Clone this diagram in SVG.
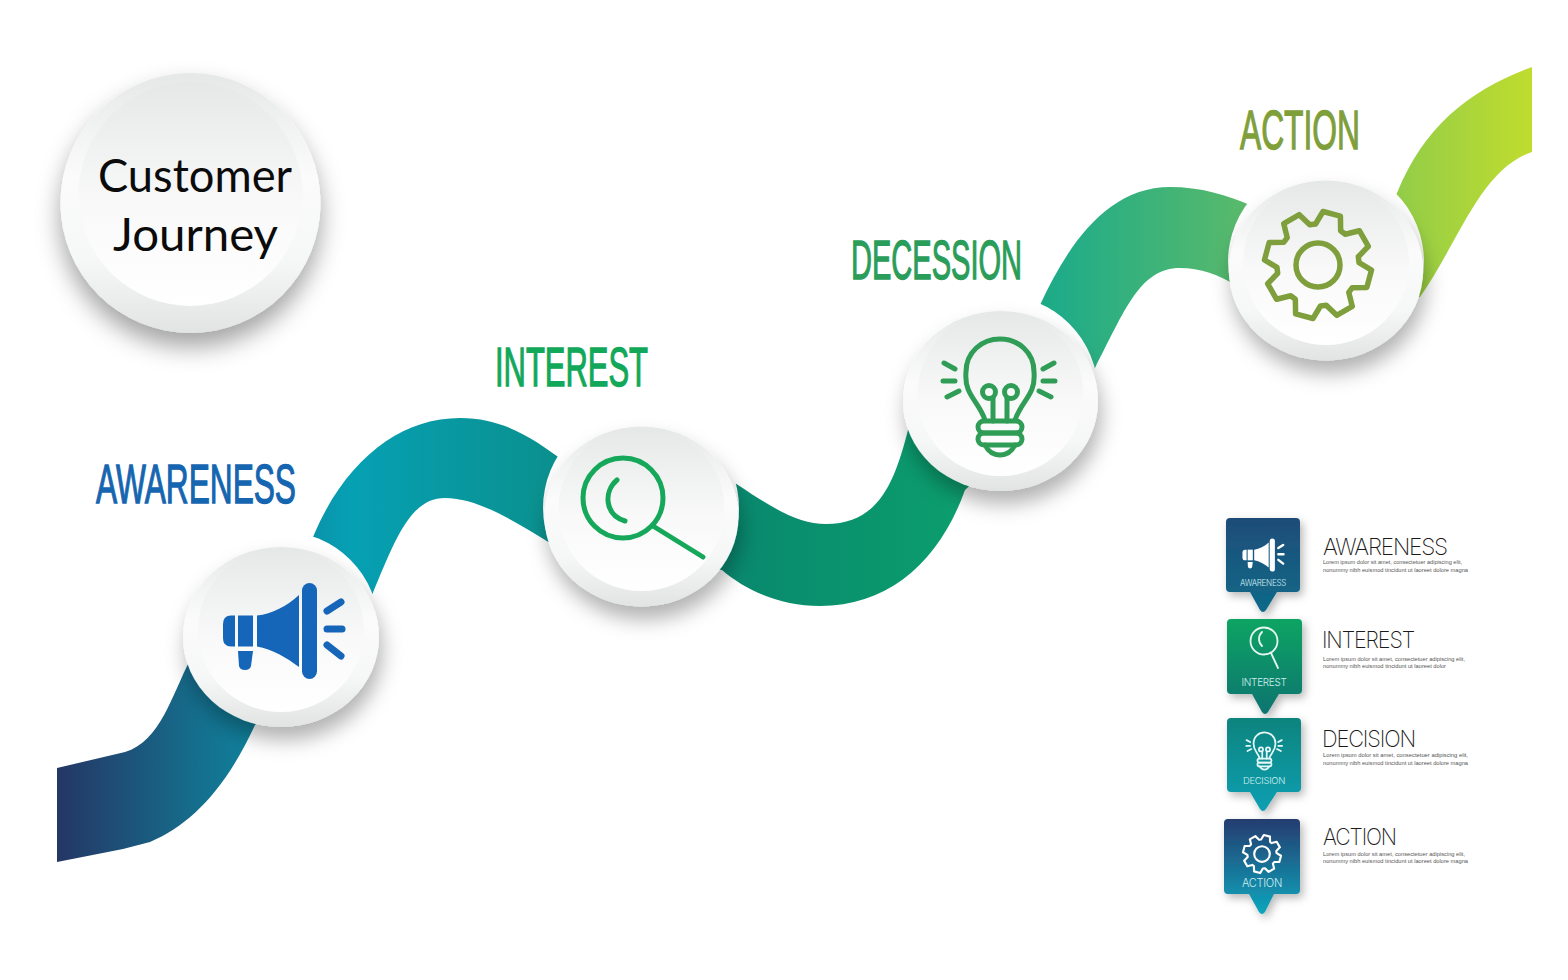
<svg xmlns="http://www.w3.org/2000/svg" xmlns:xlink="http://www.w3.org/1999/xlink" width="1568" height="980" viewBox="0 0 1568 980">
<style>
.big{font-family:"Liberation Sans",Arial,sans-serif;font-size:56px;stroke:currentColor;stroke-width:1.300}
.title{font-family:"Lato","Open Sans",sans-serif;font-size:47px;fill:#0b0b0b}
.head{font-family:"Inter","Liberation Sans",sans-serif;font-weight:200;font-size:23px;letter-spacing:-1.2px;fill:#1a1a1a}
.lorem{font-family:"Liberation Sans",Arial,sans-serif;font-size:5.6px;fill:#555}
.cap{font-family:"Inter","Liberation Sans",sans-serif;font-weight:300;letter-spacing:-.3px;fill:#cfeff0;text-anchor:middle}
.halo{fill:#fff}
.outer{fill:url(#ring);filter:url(#shadow)}
.inner{fill:url(#face)}
.line{fill:none;stroke:currentColor;stroke-width:var(--sw,5);stroke-linecap:round;stroke-linejoin:round}
.solid{fill:currentColor}
.ray{fill:none;stroke:currentColor;stroke-width:7;stroke-linecap:round}
.card{filter:url(#cardshadow)}
</style>
<defs>
<linearGradient id="band" gradientUnits="userSpaceOnUse" x1="57" y1="0" x2="1532" y2="0">
<stop offset="0" stop-color="#253665"/>
<stop offset=".1" stop-color="#14718f"/>
<stop offset=".2" stop-color="#06a0b4"/>
<stop offset=".33" stop-color="#0a918f"/>
<stop offset=".47" stop-color="#098a6e"/>
<stop offset=".6" stop-color="#0b9c6c"/>
<stop offset=".68" stop-color="#20ac88"/>
<stop offset=".81" stop-color="#5bba69"/>
<stop offset=".92" stop-color="#98cf45"/>
<stop offset="1" stop-color="#c0dc2e"/>
</linearGradient>
<linearGradient id="ring" x1="0" y1="0" x2="0" y2="1">
<stop offset="0" stop-color="#e6e8e8"/>
<stop offset=".4" stop-color="#fbfbfb"/>
<stop offset=".72" stop-color="#f6f7f7"/>
<stop offset="1" stop-color="#e2e4e4"/>
</linearGradient>
<linearGradient id="face" x1="0" y1="0" x2="0" y2="1">
<stop offset="0" stop-color="#e6e8e8"/>
<stop offset=".55" stop-color="#f9f9f9"/>
<stop offset="1" stop-color="#ffffff"/>
</linearGradient>
<linearGradient id="c1" x1="0" y1="0" x2="0" y2="1"><stop offset="0" stop-color="#1f4c78"/><stop offset="1" stop-color="#0e6a8a"/></linearGradient>
<linearGradient id="c2" x1="0" y1="0" x2="0" y2="1"><stop offset="0" stop-color="#0ea463"/><stop offset="1" stop-color="#087470"/></linearGradient>
<linearGradient id="c3" x1="0" y1="0" x2="0" y2="1"><stop offset="0" stop-color="#0a847e"/><stop offset="1" stop-color="#0e9fb2"/></linearGradient>
<linearGradient id="c4" x1="0" y1="0" x2="0" y2="1"><stop offset="0" stop-color="#253c70"/><stop offset="1" stop-color="#0da6bd"/></linearGradient>
<filter id="shadow" x="-25%" y="-25%" width="150%" height="150%"><feDropShadow dx="3" dy="13" stdDeviation="10" flood-color="#000" flood-opacity=".3"/></filter>
<filter id="titleshadow" x="-25%" y="-25%" width="150%" height="150%"><feDropShadow dx="0" dy="14" stdDeviation="12" flood-color="#000" flood-opacity=".36"/></filter>
<filter id="cardshadow" x="-25%" y="-25%" width="150%" height="150%"><feDropShadow dx="3" dy="4" stdDeviation="4" flood-color="#000" flood-opacity=".28"/></filter>
<g id="mega">
<path class="solid" d="M231 615.500H235V646.500H231Q223 646.500 223 638V624Q223 615.500 231 615.500Z"/>
<rect class="solid" x="238" y="615.500" width="15" height="31"/>
<path class="solid" d="M257 615.500C272 614 287 606 299 595V667C287 658 272 649 257 646.500Z"/>
<rect class="solid" x="302" y="583" width="15" height="96" rx="7.500"/>
<path class="solid" d="M238 651H253L251 666Q250 670 245 670Q240 670 239 666Z"/>
<path class="ray" d="M327 611L341 602M327 629H342M327 645L341 656"/>
</g>
<g id="glass" class="line">
<circle cx="623" cy="498" r="40"/>
<path d="M653 526L703 557M617 480C603 492 605 515 625 521"/>
</g>
<g id="bulb" class="line">
<path d="M985 420C978 400 964 395 966 372C966 352 982 339 1000 339C1018 339 1034 352 1034 372C1036 395 1022 400 1015 420"/>
<path d="M993 421V398M1007 421V398"/>
<circle cx="989" cy="392" r="6.500"/><circle cx="1011" cy="392" r="6.500"/>
<rect x="978" y="421" width="44" height="12" rx="6"/>
<rect x="978" y="433" width="44" height="12" rx="6"/>
<path d="M985 445Q990 455 1000 455Q1010 455 1015 445"/>
<path d="M944 363L955 369M943 381H955M947 397L959 391M1054 363L1043 369M1055 381H1043M1051 397L1039 391"/>
</g>
<g id="gear" class="line">
<path transform="rotate(15)" d="M39 -13L53 -9V9L39 13L36.800 18.400L43.800 31.100L31.100 43.800L18.400 36.800L13 39L9 53H-9L-13 39L-18.400 36.800L-31.100 43.800L-43.800 31.100L-36.800 18.400L-39 13L-53 9V-9L-39 -13L-36.800 -18.400L-43.800 -31.100L-31.100 -43.800L-18.400 -36.800L-13 -39L-9 -53H9L13 -39L18.400 -36.800L31.100 -43.800L43.800 -31.100L36.800 -18.400Z"/>
<circle r="22"/>
</g>
</defs>
<rect width="1568" height="980" fill="#fff"/>

<g id="connectors">
<path id="ribbon" fill="url(#band)" d="M57 768L125 752C160 742 172 695 190 660L303 560L313 537C345 460 400 418 460 418C505 418 535 440 565 462L725 477L738 485C775 510 800 524 826 524C880 524 895 480 908 430L1030 327L1040 305C1070 240 1110 187 1170 187C1200 187 1228 195 1252 206L1385 215L1397 193C1425 125 1470 90 1532 67V152C1480 170 1460 240 1420 297L1235 285C1220 275 1200 268 1180 268C1140 268 1125 310 1095 368L965 490C940 560 890 606 820 606C780 606 745 590 722 570L550 543C520 525 480 498 445 498C410 498 395 540 372 595L255 725C225 790 190 825 150 842L123 849L57 862Z"/>
</g>

<g id="node-title">
<circle cx="190.500" cy="203" r="130" fill="url(#ring)" filter="url(#titleshadow)"/>
<circle class="inner" cx="190.500" cy="194" r="112"/>
<text class="title" x="98" y="192" textLength="194" lengthAdjust="spacingAndGlyphs">Customer</text>
<text class="title" x="113" y="251" textLength="165" lengthAdjust="spacingAndGlyphs">Journey</text>
</g>

<g id="node-awareness">
<circle class="halo" cx="281" cy="629" r="98"/>
<ellipse class="outer" cx="281" cy="637" rx="98" ry="90"/>
<ellipse class="inner" cx="281" cy="630" rx="83" ry="82"/>
<use href="#mega" color="#1565b8"/>
<text class="big" x="96" y="503" fill="#1565b0" color="#1565b0" textLength="200" lengthAdjust="spacingAndGlyphs">AWARENESS</text>
</g>

<g id="node-interest">
<circle class="halo" cx="641" cy="508" r="98"/>
<ellipse class="outer" cx="641.500" cy="516.500" rx="97" ry="90"/>
<ellipse class="inner" cx="641.500" cy="509" rx="83" ry="82"/>
<use href="#glass" color="#16a85a"/>
<text class="big" x="495" y="386" fill="#12a85a" color="#12a85a" textLength="153" lengthAdjust="spacingAndGlyphs">INTEREST</text>
</g>

<g id="node-decision">
<circle class="halo" cx="1000" cy="393" r="98"/>
<ellipse class="outer" cx="1000.500" cy="401" rx="97.500" ry="90"/>
<ellipse class="inner" cx="1000.500" cy="394" rx="83" ry="82"/>
<use href="#bulb" color="#2f9d55"/>
<text class="big" x="851" y="279" fill="#2a9d5a" color="#2a9d5a" textLength="171" lengthAdjust="spacingAndGlyphs">DECESSION</text>
</g>

<g id="node-action">
<circle class="halo" cx="1326" cy="262" r="98"/>
<ellipse class="outer" cx="1326" cy="270.500" rx="97" ry="90"/>
<ellipse class="inner" cx="1326" cy="263" rx="83" ry="82"/>
<use href="#gear" transform="translate(1318 265)" color="#7f9f3c" style="--sw:5.500"/>
<text class="big" x="1240" y="149" fill="#7f9f3a" color="#7f9f3a" textLength="120" lengthAdjust="spacingAndGlyphs">ACTION</text>
</g>

<g id="legend-awareness">
<path class="card" fill="url(#c1)" d="M1230 518H1296Q1300 518 1300 522V588Q1300 592 1296 592H1277L1266 610Q1263 614 1260 610L1250 592H1230Q1226 592 1226 588V522Q1226 518 1230 518Z"/>
<use href="#mega" transform="translate(1263.500 555) scale(.345) translate(-284 -631)" color="#fff"/>
<text class="cap" x="1263" y="586" font-size="8.500" textLength="46" lengthAdjust="spacingAndGlyphs">AWARENESS</text>
<text class="head" x="1323" y="555" textLength="124" lengthAdjust="spacingAndGlyphs">AWARENESS</text>
<text class="lorem" x="1323" y="564" textLength="139" lengthAdjust="spacingAndGlyphs">Lorem ipsum dolor sit amet, consectetuer adipiscing elit,</text>
<text class="lorem" x="1323" y="572" textLength="145" lengthAdjust="spacingAndGlyphs">nonummy nibh euismod tincidunt ut laoreet dolore magna</text>
</g>

<g id="legend-interest">
<path class="card" fill="url(#c2)" d="M1231 619H1298Q1302 619 1302 623V690Q1302 694 1298 694H1279L1268 712Q1265 716 1262 712L1252 694H1231Q1227 694 1227 690V623Q1227 619 1231 619Z"/>
<g class="line" color="#e6f7f0" style="--sw:1.800">
<circle cx="1264" cy="641" r="13.500"/>
<path d="M1271 653L1278 668M1262 632C1258 636 1258 642 1262 646"/>
</g>
<text class="cap" x="1264" y="686" font-size="10.500" textLength="45" lengthAdjust="spacingAndGlyphs">INTEREST</text>
<text class="head" x="1322" y="648" textLength="92" lengthAdjust="spacingAndGlyphs">INTEREST</text>
<text class="lorem" x="1323" y="661" textLength="142" lengthAdjust="spacingAndGlyphs">Lorem ipsum dolor sit amet, consectetuer adipiscing elit,</text>
<text class="lorem" x="1323" y="668" textLength="123" lengthAdjust="spacingAndGlyphs">nonummy nibh euismod tincidunt ut laoreet dolor</text>
</g>

<g id="legend-decision">
<path class="card" fill="url(#c3)" d="M1231 718H1297Q1301 718 1301 722V788Q1301 792 1297 792H1277L1266 809Q1263 813 1260 809L1250 792H1231Q1227 792 1227 788V722Q1227 718 1231 718Z"/>
<use href="#bulb" transform="translate(1264.500 751) scale(.32) translate(-1000 -397)" color="#e6f7f7" style="--sw:5.500"/>
<text class="cap" x="1264" y="784" font-size="9.500" textLength="42" lengthAdjust="spacingAndGlyphs">DECISION</text>
<text class="head" x="1322" y="747" textLength="93" lengthAdjust="spacingAndGlyphs">DECISION</text>
<text class="lorem" x="1323" y="757" textLength="145" lengthAdjust="spacingAndGlyphs">Lorem ipsum dolor sit amet, consectetuer adipiscing elit,</text>
<text class="lorem" x="1323" y="764.500" textLength="145" lengthAdjust="spacingAndGlyphs">nonummy nibh euismod tincidunt ut laoreet dolore magna</text>
</g>

<g id="legend-action">
<path class="card" fill="url(#c4)" d="M1228 819H1296Q1300 819 1300 823V890Q1300 894 1296 894H1274L1265 912Q1262 916 1259 912L1249 894H1228Q1224 894 1224 890V823Q1224 819 1228 819Z"/>
<use href="#gear" transform="translate(1262 854) scale(.355)" color="#fff" style="--sw:6"/>
<text class="cap" x="1262" y="887" font-size="11" textLength="40" lengthAdjust="spacingAndGlyphs">ACTION</text>
<text class="head" x="1323" y="845" textLength="73" lengthAdjust="spacingAndGlyphs">ACTION</text>
<text class="lorem" x="1323" y="856" textLength="142" lengthAdjust="spacingAndGlyphs">Lorem ipsum dolor sit amet, consectetuer adipiscing elit,</text>
<text class="lorem" x="1323" y="863" textLength="145" lengthAdjust="spacingAndGlyphs">nonummy nibh euismod tincidunt ut laoreet dolore magna</text>
</g>
</svg>
